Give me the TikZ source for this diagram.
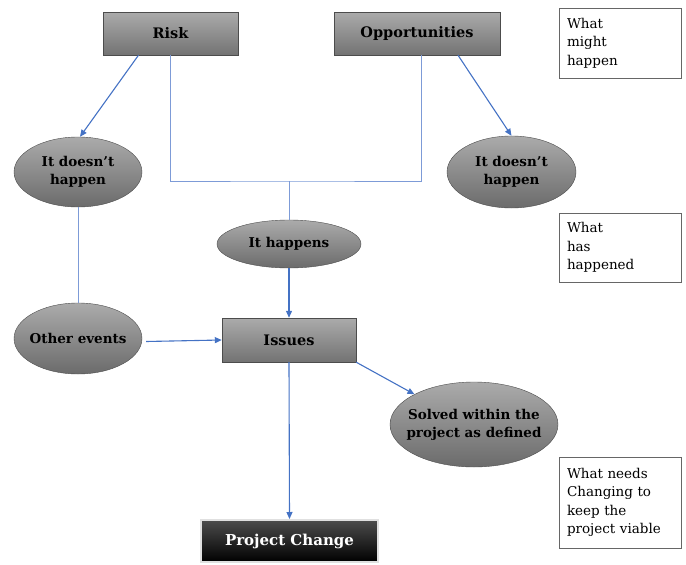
\documentclass[tikz,border=0pt]{standalone}
\usepackage{fontspec}
\setmainfont{DejaVu Serif}
\usetikzlibrary{arrows.meta,positioning,shapes.geometric}
\definecolor{linkblue}{RGB}{68,114,196}
\definecolor{paleblue}{RGB}{125,155,215}
\tikzset{
  greybox/.style={rectangle,draw=black!70,top color=black!33,bottom color=black!55,
    font=\bfseries\fontsize{14.5}{17}\selectfont,inner sep=0pt},
  greyoval/.style={ellipse,draw=black!70,top color=black!33,bottom color=black!58,
    font=\bfseries\fontsize{13.5}{18}\selectfont,align=center,inner xsep=-10pt,inner ysep=0pt},
  changebox/.style={rectangle,draw=black!12,line width=2pt,top color=black!70,bottom color=black,
    text=white,font=\bfseries\fontsize{15}{17}\selectfont,inner sep=0pt},
  notebox/.style={rectangle,draw=black!60,fill=white,minimum width=122pt,text width=106pt,
    align=left,font=\fontsize{13.5}{18.5}\selectfont,inner sep=0pt},
  arr/.style={draw=linkblue,line width=1.1pt,-{Triangle[length=7pt,width=6pt]}},
  link/.style={draw=paleblue,line width=0.9pt}
}
\begin{document}
\begin{tikzpicture}[x=1pt,y=-1pt]
\useasboundingbox (0,0) rectangle (686,565);
% top row
\node[greybox,minimum width=135pt,minimum height=43pt] (risk) at (170.5,33.5) {Risk};
\node[greybox,minimum width=166pt,minimum height=43pt] (opp) at (417,33.5) {Opportunities};
\node[greyoval,minimum width=128pt,minimum height=70pt] (nrisk) at (78,172) {It doesn’t\\happen};
\node[greyoval,minimum width=129pt,minimum height=72pt] (nopp) at (511.5,172) {It doesn’t\\happen};
\node[greyoval,minimum width=144pt,minimum height=48pt] (happ) at (289,244) {It happens};
% middle and bottom
\node[greyoval,minimum width=128pt,minimum height=71pt] (other) at (78,338.5) {Other events};
\node[greybox,minimum width=134pt,minimum height=44pt] (issues) at (289,340) {Issues};
\node[greyoval,minimum width=168pt,minimum height=85pt] (solved) at (474,424.5) {Solved within the\\project as defined};
\node[changebox,minimum width=177pt,minimum height=42pt] (change) at (289.5,541) {Project Change};
% notes on the right
\node[notebox,minimum height=70pt] (might) at (620,43) {What\\might\\happen};
\node[notebox,minimum height=69pt] (has) at (620,247.5) {What\\has\\happened};
\node[notebox,minimum height=91pt] (needs) at (620,502.5) {What needs\\Changing to\\keep the\\project viable};
% connectors
\coordinate (join) at (289,181);
\draw[link] (risk.south) |- (join) -| ([xshift=4pt]opp.south);
\draw[link] (join) -- (happ.north);
\draw[link] (nrisk.south) -- (other.north);
\draw[arr] ([xshift=-32pt]risk.south) -- ([xshift=2pt]nrisk.north);
\draw[arr] ([xshift=41pt]opp.south) -- (nopp.north);
\draw[arr] (happ.south) -- (issues.north);
\draw[arr] ([xshift=4pt,yshift=-3pt]other.east) -- (issues.west);
\draw[arr] (issues.south east) -- (solved.north west);
\draw[arr] (issues.south) -- (change.north);
\end{tikzpicture}
\end{document}
